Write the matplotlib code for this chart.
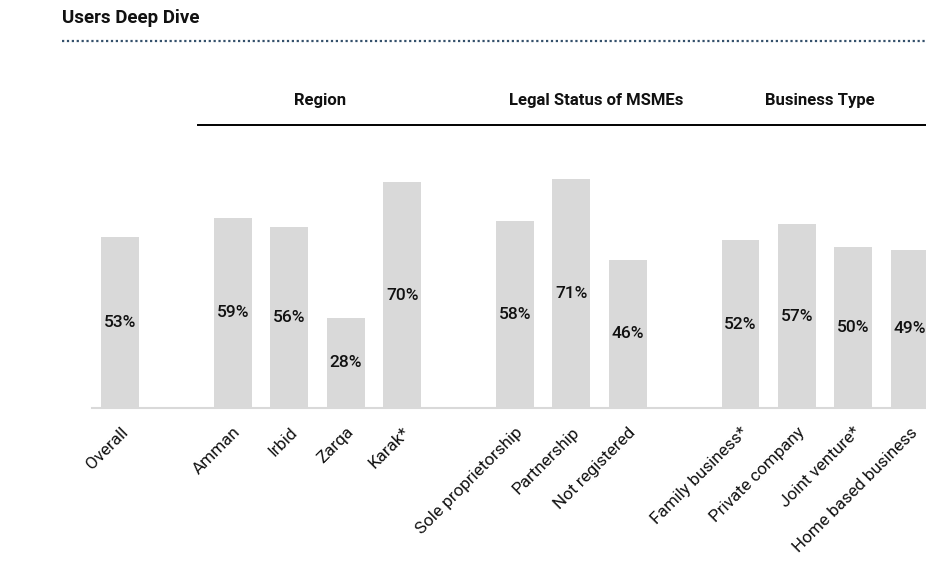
import matplotlib.pyplot as plt
from matplotlib.lines import Line2D

plt.rcParams['font.family'] = ['Roboto', 'DejaVu Sans']

# Share of users per segment (%)
categories = ['Overall',
              'Amman', 'Irbid', 'Zarqa', 'Karak*',
              'Sole proprietorship', 'Partnership', 'Not registered',
              'Family business*', 'Private company', 'Joint venture*', 'Home based business']
positions = [0, 2, 3, 4, 5, 7, 8, 9, 11, 12, 13, 14]
values = [53, 59, 56, 28, 70, 58, 71, 46, 52, 57, 50, 49]

groups = ['Region', 'Legal Status of MSMEs', 'Business Type']
group_centers = [3.55, 8.44, 12.41]

W, H = 926, 564
fig = plt.figure(figsize=(W / 100, H / 100), dpi=100)

# axes: baseline at y=408px, left edge 92px, runs past right edge
left, right = 92, 926
bottom, top = 408, 150
ax = fig.add_axes([left / W, 1 - bottom / H, (right - left) / W, (bottom - top) / H])

bar_color = '#d9d9d9'
ax.bar(positions, values, width=0.67, color=bar_color, zorder=2)
for x, v in zip(positions, values):
    ax.text(x, v / 2, f'{v}%', ha='center', va='center', fontsize=12.5,
            fontweight='medium', color='#111111', zorder=3)

ax.set_xlim(-0.5, 14.29)
ax.set_ylim(0, 80)
ax.set_yticks([])
ax.set_xticks(positions)
ax.set_xticklabels(categories, rotation=45, ha='right', rotation_mode='anchor',
                   fontsize=12.3, color='#111111')
ax.tick_params(axis='x', length=0, pad=12)
for s in ['top', 'right', 'left']:
    ax.spines[s].set_visible(False)
ax.spines['bottom'].set_color(bar_color)
ax.spines['bottom'].set_linewidth(1.5)

# group headers and the rule underneath
for name, cx in zip(groups, group_centers):
    ax.text(cx, (bottom - 101) / (bottom - top), name, transform=ax.get_xaxis_transform(),
            ha='center', va='center', fontsize=12, fontweight='bold', color='#111111')
fig.add_artist(Line2D([198 / W, 1], [1 - 125 / H, 1 - 125 / H], color='black', lw=1.4))

# title with dotted divider
fig.text(62 / W, 1 - 18 / H, 'Users Deep Dive', fontsize=13.5, fontweight='bold',
         ha='left', va='center', color='#111111')
fig.add_artist(Line2D([62 / W, 1], [1 - 41 / H, 1 - 41 / H], color='#34506b',
                      lw=1.6, linestyle=(0, (1, 1.2))))

fig.savefig('out.png', dpi=100)
